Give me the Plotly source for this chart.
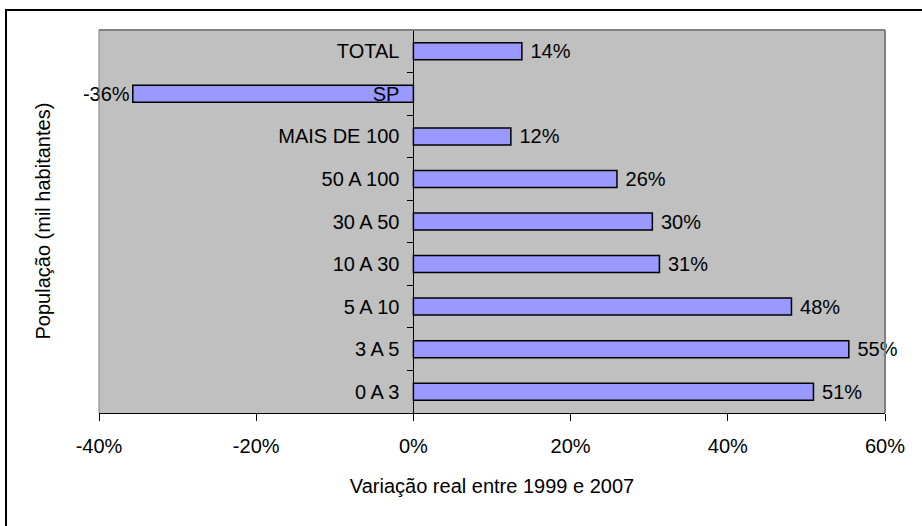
import plotly.graph_objects as go

categories = ["0 A 3", "3 A 5", "5 A 10", "10 A 30", "30 A 50", "50 A 100", "MAIS DE 100", "SP", "TOTAL"]
values = [0.509, 0.554, 0.481, 0.313, 0.304, 0.259, 0.124, -0.357, 0.138]
x_ticks = [-0.4, -0.2, 0.0, 0.2, 0.4, 0.6]

FONT = "Liberation Sans, Arial, sans-serif"

x_tick_text = [f"{round(v * 100):d}%" for v in x_ticks]
bar_text = [(f" {round(v * 100):d}%" if v >= 0 else f"{round(v * 100):d}%") for v in values]

fig = go.Figure()
fig.add_trace(go.Bar(
    x=values, y=categories, orientation="h",
    marker=dict(color="#9999FF", line=dict(color="black", width=1.5)),
    width=0.4,
    text=bar_text, texttemplate="%{text}", textposition="outside",
    textfont=dict(family=FONT, size=20, color="black"),
    constraintext="none", cliponaxis=False,
))

fig.update_layout(
    width=922, height=526,
    margin=dict(l=99, r=37, t=30, b=113),
    paper_bgcolor="white", plot_bgcolor="#C0C0C0",
    showlegend=False,
    font=dict(family=FONT, size=20, color="black"),
    xaxis=dict(
        range=[-0.4, 0.6], tickvals=x_ticks, ticktext=x_tick_text,
        showgrid=False, zeroline=False,
        showline=True, linecolor="black", linewidth=1,
        ticks="outside", ticklen=7, tickcolor="black",
        ticklabelstandoff=8,
        tickfont=dict(size=20),
        title=dict(text="Variação real entre 1999 e 2007", font=dict(size=20), standoff=22),
    ),
    yaxis=dict(
        categoryorder="array", categoryarray=categories,
        anchor="free", position=0.4,
        showgrid=False, zeroline=False,
        showline=True, linecolor="black", linewidth=1,
        ticks="outside", ticklen=6, tickcolor="black", tickson="boundaries",
        ticklabelstandoff=10,
        tickfont=dict(size=20),
        title=None,
    ),
    annotations=[dict(
        text="População (mil habitantes)", textangle=-90,
        xref="paper", yref="paper", x=(42 - 99) / 786, y=0.5,
        showarrow=False, font=dict(size=20), xanchor="center", yanchor="middle",
    )],
    shapes=[
        dict(type="line", xref="paper", yref="paper", x0=0, x1=1, y0=1, y1=1,
             line=dict(color="#808080", width=2)),
        dict(type="line", xref="paper", yref="paper", x0=1, x1=1, y0=0, y1=1,
             line=dict(color="#808080", width=2)),
        dict(type="line", xref="paper", yref="paper", x0=0, x1=0, y0=0, y1=1,
             line=dict(color="#808080", width=1)),
        dict(type="rect", xref="paper", yref="paper",
             x0=(6 - 99) / 786, x1=1.5, y0=-0.5, y1=(413 - 10) / 383,
             line=dict(color="black", width=2)),
    ],
)

fig.write_html("out.html")
